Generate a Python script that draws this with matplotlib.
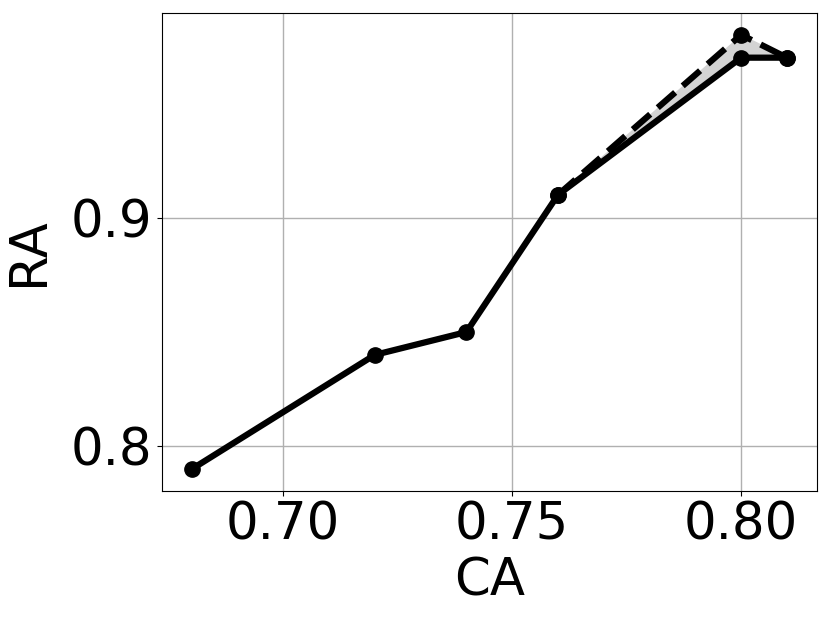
import matplotlib
matplotlib.use("Agg")
import matplotlib.pyplot as plt

# solid curve
ca = [0.68, 0.72, 0.74, 0.76, 0.80, 0.81]
ra = [0.79, 0.84, 0.85, 0.91, 0.97, 0.97]

# dashed curve (upper branch)
ca_up = [0.76, 0.80, 0.81]
ra_up = [0.91, 0.98, 0.97]
ra_low = [0.91, 0.97, 0.97]

plt.rcParams["font.size"] = 37

fig, ax = plt.subplots(figsize=(8.3, 6.23), dpi=100)
fig.subplots_adjust(left=0.195, right=0.984, top=0.979, bottom=0.212)

ax.fill_between(ca_up, ra_low, ra_up, color="lightgray", zorder=2)
ax.plot(ca, ra, color="black", lw=4.5, marker="o", markersize=11, zorder=3)
ax.plot(ca_up, ra_up, color="black", lw=4.5, ls="--", marker="o", markersize=11, zorder=4)

ax.set_xticks([0.70, 0.75, 0.80])
ax.set_xticklabels(["0.70", "0.75", "0.80"])
ax.set_yticks([0.8, 0.9])
ax.set_yticklabels(["0.8", "0.9"])
ax.grid(True, color="#b0b0b0", lw=1)
ax.set_axisbelow(True)
ax.set_xlabel("CA", labelpad=4)
ax.set_ylabel("RA", labelpad=12)

fig.savefig("out.png", dpi=100)
